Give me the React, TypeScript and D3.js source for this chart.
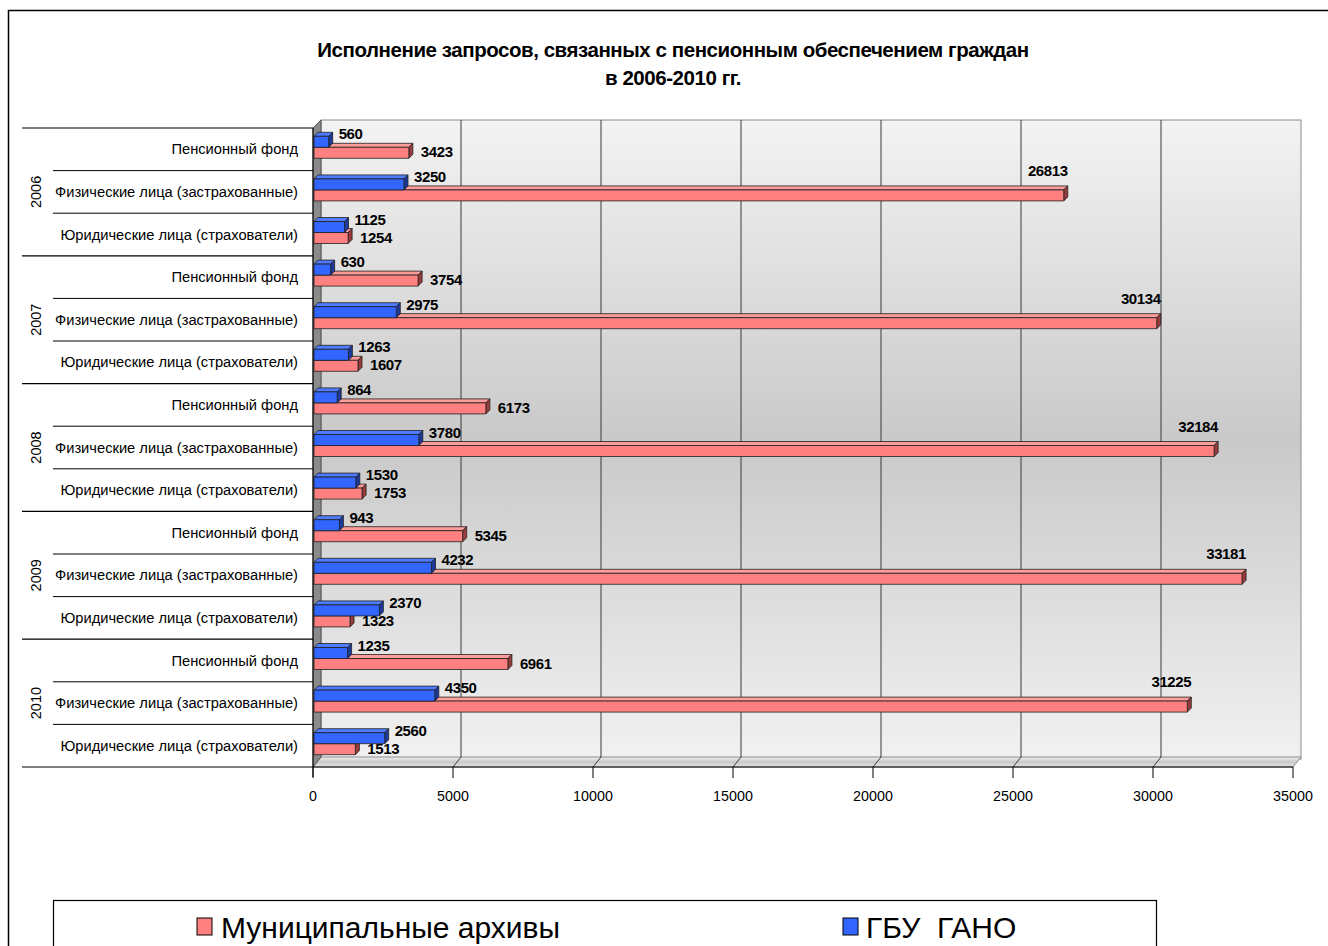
import React from "react";
import * as d3 from "d3";

const years = ["2006", "2007", "2008", "2009", "2010"];
const categories = [
  "Пенсионный фонд",
  "Физические лица (застрахованные)",
  "Юридические лица (страхователи)",
];
const seriesNames = ["Муниципальные архивы", "ГБУ  ГАНО"];
// values per row: year-major, category-minor
const municipal = [3423, 26813, 1254, 3754, 30134, 1607, 6173, 32184, 1753, 5345, 33181, 1323, 6961, 31225, 1513];
const gano = [560, 3250, 1125, 630, 2975, 1263, 864, 3780, 1530, 943, 4232, 2370, 1235, 4350, 2560];
const tickValues = [0, 5000, 10000, 15000, 20000, 25000, 30000, 35000];
const title1 = "Исполнение запросов, связанных с пенсионным обеспечением граждан";
const title2 = "в 2006-2010 гг.";

const W = 1328;
const H = 946;
const FONT = "'Liberation Sans', Arial, sans-serif";
const DEPTH = 8; // wall depth
const BD = 4; // bar depth

export default function App() {
  const rows = years.flatMap((y, yi) => categories.map((c, ci) => ({ y, c, yi, ci, i: yi * 3 + ci })));
  const x = d3.scaleLinear().domain([0, 35000]).range([313, 1293]);
  const yBand = d3.scaleBand<number>().domain(rows.map((r) => r.i)).range([128, 767]).padding(0);
  const rowH = yBand.bandwidth();
  const top = 128;
  const bottom = 767;

  const barPaths = (x0: number, x1: number, y0: number, h: number) => {
    const front = `M${x0},${y0}H${x1}V${y0 + h}H${x0}Z`;
    const topF = `M${x0},${y0}L${x0 + BD},${y0 - BD}H${x1 + BD}L${x1},${y0}Z`;
    const side = `M${x1},${y0}L${x1 + BD},${y0 - BD}V${y0 + h - BD}L${x1},${y0 + h}Z`;
    return { front, topF, side };
  };

  const Bar = ({ v, y0, h, fill, sideFill, topFill }: any) => {
    const p = barPaths(x(0) + 1, x(v), y0, h);
    return (
      <g stroke="#202020" strokeWidth={0.8} strokeLinejoin="round">
        <path d={p.topF} fill={topFill} />
        <path d={p.side} fill={sideFill} />
        <path d={p.front} fill={fill} />
      </g>
    );
  };

  const pink = { fill: "#FF8080", sideFill: "#9a3c3c", topFill: "#ff9c9c" };
  const blue = { fill: "#3366FF", sideFill: "#1c3a99", topFill: "#4f7cff" };

  return (
    <svg
      width={W}
      height={H}
      style={{ position: "absolute", left: 0, top: 0, background: "#fff" }}
      fontFamily={FONT}
    >
      <defs>
        <linearGradient id="wall" x1="0" y1="0" x2="0" y2="1">
          <stop offset="0" stopColor="#f3f3f3" />
          <stop offset="0.5" stopColor="#c9c9c9" />
          <stop offset="1" stopColor="#f1f1f1" />
        </linearGradient>
        <linearGradient id="floor" x1="0" y1="0" x2="0" y2="1">
          <stop offset="0" stopColor="#f0f0f0" />
          <stop offset="0.5" stopColor="#c8c8c8" />
          <stop offset="1" stopColor="#e8e8e8" />
        </linearGradient>
      </defs>
      <rect x={0} y={0} width={W} height={H} fill="#fff" />
      {/* outer frame */}
      <path d={`M8.5,${H}V10.5H${W}`} fill="none" stroke="#000" strokeWidth={1.5} />

      {/* title */}
      <text x={673} y={57} textAnchor="middle" fontSize={20.5} fontWeight="bold" letterSpacing={-0.45}>
        {title1}
      </text>
      <text x={673} y={85} textAnchor="middle" fontSize={20.5} fontWeight="bold" letterSpacing={-0.45}>
        {title2}
      </text>

      {/* back wall */}
      <rect
        x={x(0) + DEPTH}
        y={top - DEPTH}
        width={x(35000) - x(0)}
        height={bottom - top}
        fill="url(#wall)"
        stroke="#8c8c8c"
        strokeWidth={1}
      />
      {/* floor */}
      <path
        d={`M${x(0)},${bottom}L${x(0) + DEPTH},${bottom - DEPTH - 2}H${x(35000) + DEPTH}L${x(35000)},${bottom}Z`}
        fill="url(#floor)"
        stroke="#8c8c8c"
        strokeWidth={1}
      />
      {/* left wall */}
      <path
        d={`M${x(0)},${top}L${x(0) + DEPTH},${top - DEPTH}V${bottom - DEPTH - 2}L${x(0)},${bottom}Z`}
        fill="#8a8a8a"
        stroke="#555"
        strokeWidth={1}
      />
      {/* gridlines */}
      {tickValues.slice(1, -1).map((t) => (
        <g key={t} stroke="#3a3a3a" strokeWidth={1}>
          <line x1={x(t) + DEPTH} x2={x(t) + DEPTH} y1={top - DEPTH} y2={bottom - DEPTH - 2} />
          <line x1={x(t) + DEPTH} x2={x(t)} y1={bottom - DEPTH - 2} y2={bottom} />
        </g>
      ))}

      {/* bars */}
      {rows.map((r) => {
        const c = (yBand(r.i) as number) + rowH / 2;
        return (
          <g key={r.i}>
            <Bar v={municipal[r.i]} y0={c - 2} h={11} {...pink} />
            <Bar v={gano[r.i]} y0={c - 13} h={11} {...blue} />
          </g>
        );
      })}

      {/* value labels */}
      {rows.map((r) => {
        const c = (yBand(r.i) as number) + rowH / 2;
        const m = municipal[r.i];
        const g = gano[r.i];
        const long = m > 20000;
        return (
          <g key={r.i} fontSize={15} fontWeight="bold" letterSpacing={-0.4} fill="#000">
            <text x={x(g) + BD + 6} y={c - 10}>
              {g}
            </text>
            {long ? (
              <text x={x(m) + BD - 20} y={c - 16} textAnchor="middle">
                {m}
              </text>
            ) : (
              <text x={x(m) + BD + 8} y={c + 8}>
                {m}
              </text>
            )}
          </g>
        );
      })}

      {/* category axis */}
      <line x1={x(0)} x2={x(0)} y1={top} y2={bottom + 10} stroke="#000" strokeWidth={1} />
      <line x1={22} x2={x(35000)} y1={bottom} y2={bottom} stroke="#000" strokeWidth={1.2} />
      {years.map((yr, yi) => {
        const y0 = yBand(yi * 3) as number;
        const yc = y0 + (rowH * 3) / 2;
        return (
          <g key={yr}>
            <line x1={22} x2={x(0)} y1={y0} y2={y0} stroke="#000" strokeWidth={1.2} />
            {[1, 2].map((k) => (
              <line
                key={k}
                x1={53}
                x2={x(0)}
                y1={y0 + k * rowH}
                y2={y0 + k * rowH}
                stroke="#000"
                strokeWidth={1}
              />
            ))}
            <text
              transform={`translate(41,${yc}) rotate(-90)`}
              textAnchor="middle"
              fontSize={14.5}
              fill="#000"
            >
              {yr}
            </text>
          </g>
        );
      })}
      {rows.map((r) => {
        const c = (yBand(r.i) as number) + rowH / 2;
        return (
          <text key={r.i} x={298} y={c + 5} textAnchor="end" fontSize={14.7} fill="#000">
            {r.c}
          </text>
        );
      })}

      {/* value axis ticks */}
      {tickValues.map((t) => (
        <g key={t}>
          <line x1={x(t)} x2={x(t)} y1={bottom} y2={bottom + 11} stroke="#000" strokeWidth={1} />
          <text x={x(t)} y={801} textAnchor="middle" fontSize={14.3} fill="#000">
            {t}
          </text>
        </g>
      ))}

      {/* legend */}
      <rect x={53.5} y={900.5} width={1103} height={60} fill="#fff" stroke="#000" strokeWidth={1.2} />
      <rect x={197} y={918} width={15} height={17} fill="#FF8080" stroke="#000" strokeWidth={1} />
      <text x={221} y={938} fontSize={30} fill="#000">
        {seriesNames[0]}
      </text>
      <rect x={843} y={918} width={15} height={17} fill="#3366FF" stroke="#000" strokeWidth={1} />
      <text x={866} y={938} fontSize={30} fill="#000" style={{ whiteSpace: "pre" }}>
        {seriesNames[1]}
      </text>
    </svg>
  );
}
